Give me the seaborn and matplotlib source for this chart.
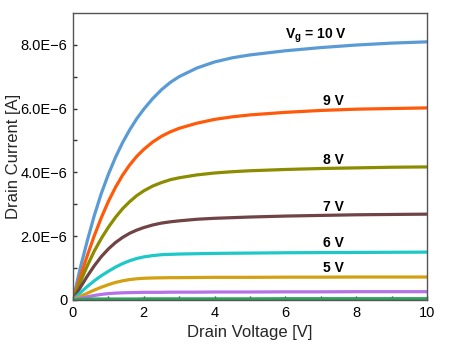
import numpy as np
import pandas as pd
import matplotlib
matplotlib.use("Agg")
import matplotlib.pyplot as plt
import seaborn as sns

# Drain voltage sample points [V]
vd = [0, 0.2, 0.4, 0.6, 0.8, 1.0, 1.2, 1.4, 1.6, 1.8, 2.0, 2.25, 2.5, 2.75, 3.0,
      3.5, 4.0, 4.5, 5.0, 6.0, 7.0, 8.0, 9.0, 10.0]

# Drain current in units of 1E-6 A
i_10v = [0, 0.98, 1.84, 2.64, 3.34, 3.94, 4.47, 4.93, 5.33, 5.68, 5.98, 6.31, 6.59, 6.82, 7.00,
         7.27, 7.46, 7.59, 7.68, 7.81, 7.91, 7.99, 8.05, 8.09]
i_9v = [0, 0.71, 1.38, 2.01, 2.58, 3.09, 3.53, 3.91, 4.23, 4.50, 4.72, 4.95, 5.13, 5.27, 5.38,
        5.54, 5.66, 5.74, 5.80, 5.88, 5.94, 5.98, 6.00, 6.02]
i_8v = [0, 0.55, 1.06, 1.53, 1.93, 2.28, 2.59, 2.86, 3.08, 3.27, 3.42, 3.57, 3.68, 3.77, 3.83,
        3.92, 3.98, 4.02, 4.05, 4.09, 4.12, 4.14, 4.16, 4.17]
i_7v = [0, 0.38, 0.74, 1.07, 1.36, 1.60, 1.80, 1.96, 2.09, 2.19, 2.27, 2.35, 2.41, 2.45, 2.48,
        2.53, 2.56, 2.58, 2.60, 2.63, 2.65, 2.67, 2.68, 2.69]
i_6v = [0, 0.22, 0.42, 0.60, 0.76, 0.90, 1.03, 1.14, 1.23, 1.30, 1.35, 1.39, 1.42, 1.43, 1.44,
        1.45, 1.46, 1.465, 1.47, 1.48, 1.485, 1.49, 1.495, 1.50]
i_5v = [0, 0.11, 0.21, 0.31, 0.40, 0.48, 0.55, 0.60, 0.64, 0.665, 0.68, 0.69, 0.695, 0.70, 0.70,
        0.705, 0.71, 0.71, 0.71, 0.715, 0.715, 0.72, 0.72, 0.72]
i_4v = [0, 0.05, 0.10, 0.14, 0.175, 0.20, 0.215, 0.225, 0.23, 0.235, 0.24, 0.24, 0.24, 0.245, 0.245,
        0.245, 0.25, 0.25, 0.25, 0.255, 0.255, 0.26, 0.26, 0.26]
i_3v = [0, 0.015, 0.025, 0.03, 0.03, 0.03, 0.03, 0.03, 0.03, 0.03, 0.035, 0.035, 0.035, 0.035, 0.035,
        0.035, 0.035, 0.035, 0.035, 0.04, 0.04, 0.04, 0.04, 0.04]

series = {"10 V": i_10v, "9 V": i_9v, "8 V": i_8v, "7 V": i_7v,
          "6 V": i_6v, "5 V": i_5v, "4 V": i_4v, "3 V": i_3v}
colors = ["#5b9bd5", "#ff5a0a", "#8c8c00", "#704444", "#1ec8c8", "#d4a012", "#b472e6", "#2ea05a"]

# Curve labels: text, x [V], y [1E-6 A]
label_texts = [r"V$_\mathregular{g}$ = 10 V", "9 V", "8 V", "7 V", "6 V", "5 V"]
label_x = [6.87, 7.35, 7.35, 7.37, 7.37, 7.37]
label_y = [8.28, 6.24, 4.39, 2.92, 1.79, 1.00]

xticks = [0, 2, 4, 6, 8, 10]
xtick_labels = ["0", "2", "4", "6", "8", "10"]
yticks = [0, 2e-6, 4e-6, 6e-6, 8e-6]
ytick_labels = ["0", "2.0E\u22126", "4.0E\u22126", "6.0E\u22126", "8.0E\u22126"]

rows = []
for name, vals in series.items():
    for v, i in zip(vd, vals):
        rows.append({"Vd": v, "Id": i * 1e-6, "Vg": name})
df = pd.DataFrame(rows)

sns.set_theme(style="ticks")
plt.rcParams["font.family"] = ["Liberation Sans", "DejaVu Sans"]
plt.rcParams["mathtext.fontset"] = "custom"
plt.rcParams["mathtext.rm"] = "Liberation Serif"

fig = plt.figure(figsize=(4.52, 3.46), dpi=100)
ax = fig.add_axes([0.1615, 0.133, 0.7832, 0.830])

sns.lineplot(data=df, x="Vd", y="Id", hue="Vg", palette=colors,
             hue_order=list(series.keys()), linewidth=2.3, legend=False, ax=ax,
             estimator=None, sort=True, solid_joinstyle="round", solid_capstyle="round")

ax.set_xlim(0, 10)
ax.set_ylim(0, 9e-6)
ax.set_xticks(xticks)
ax.set_xticklabels(xtick_labels, fontsize=10.5)
ax.set_yticks(yticks)
ax.set_yticklabels(ytick_labels, fontsize=10.5)
ax.set_xticks([1, 3, 5, 7, 9], minor=True)
ax.set_yticks([1e-6, 3e-6, 5e-6, 7e-6], minor=True)
ax.tick_params(which="both", direction="in", length=3, width=1, color="#333333",
               top=False, right=False, labelcolor="black")
ax.tick_params(which="major", pad=4)

for s in ax.spines.values():
    s.set_visible(True)
    s.set_color("#555555")
    s.set_linewidth(1.0)

ax.set_xlabel("Drain Voltage [V]", fontsize=12, labelpad=4)
ax.set_ylabel("Drain Current [A]", fontsize=12, labelpad=0)

for t, x, y in zip(label_texts, label_x, label_y):
    ax.text(x, y * 1e-6, t, fontsize=10, fontweight="bold", ha="center", va="center",
            color="black")

fig.savefig("out.png", dpi=100)
